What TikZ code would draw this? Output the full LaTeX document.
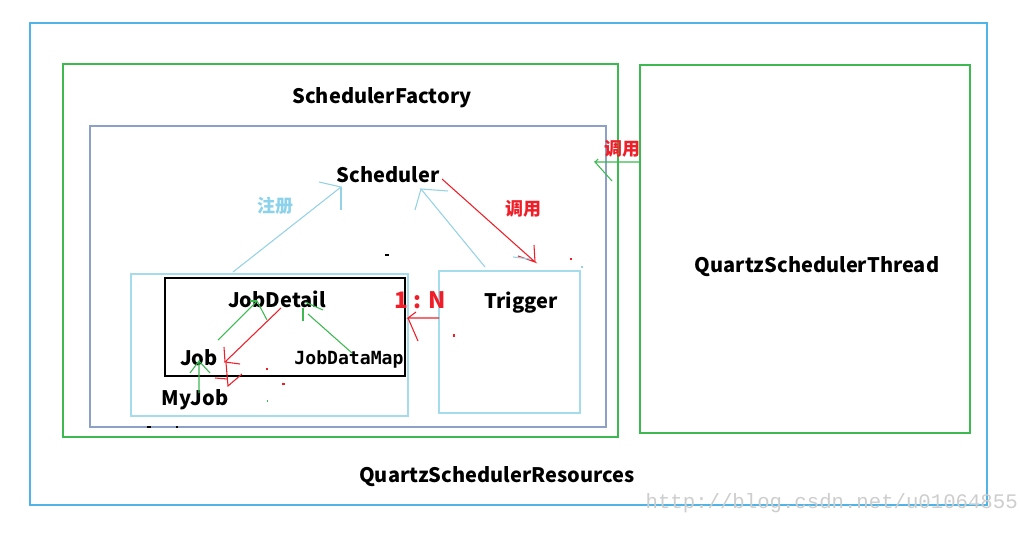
\documentclass[tikz,border=0pt]{standalone}
\usepackage{fontspec}
\newfontfamily\cjk{Noto Sans CJK SC}
\newfontfamily\monof{DejaVu Sans Mono}
\newfontfamily\wmfont{Liberation Mono}
\definecolor{outerblue}{RGB}{80,180,230}
\definecolor{boxgreen}{RGB}{60,185,80}
\definecolor{greyblue}{RGB}{140,160,200}
\definecolor{paleblue}{RGB}{165,220,235}
\definecolor{arrblue}{RGB}{150,210,230}
\definecolor{lblblue}{RGB}{140,210,235}
\definecolor{hred}{RGB}{240,30,40}
\definecolor{wmgrey}{RGB}{205,205,205}
\tikzset{
  lbl/.style={font=\cjk\bfseries\fontsize{15}{18}\selectfont, text=black, inner sep=0pt},
  monolbl/.style={font=\monof\bfseries\fontsize{13.6}{16}\selectfont, text=black, inner sep=0pt},
  cnlbl/.style={font=\cjk\bfseries\fontsize{13.5}{16}\selectfont, inner sep=0pt},
  box/.style={draw, line width=1.1pt, inner sep=0pt},
  thinbox/.style={draw, line width=0.9pt, inner sep=0pt},
  bluestroke/.style={draw=arrblue, line width=0.8pt},
  redstroke/.style={draw=hred, line width=0.8pt},
  greenstroke/.style={draw=boxgreen, line width=0.8pt},
}
\begin{document}
\begin{tikzpicture}[x=0.75pt,y=-0.75pt]
\useasboundingbox (0,0) rectangle (1020,535);
\fill[white] (0,0) rectangle (1020,535);
% boxes
\draw[box, outerblue] (30,23) rectangle (987,505);
\draw[box, boxgreen] (63,64) rectangle (618,437);
\draw[box, boxgreen] (640,65) rectangle (970,433);
\draw[thinbox, greyblue] (90,126) rectangle (606,427);
\draw[thinbox, paleblue] (131,274) rectangle (408,416);
\draw[thinbox, black] (165,278) rectangle (405,376);
\draw[thinbox, paleblue] (439,271) rectangle (580,413);
% labels
\node[lbl] (sf) at (382,98) {SchedulerFactory};
\node[lbl] (qst) at (817,267) {QuartzSchedulerThread};
\node[lbl] (qsr) at (497,477) {QuartzSchedulerResources};
\node[lbl] (sch) at (388,175) {Scheduler};
\node[lbl] (jd) at (277,299) {JobDetail};
\node[lbl] (job) at (199,358) {Job};
\node[monolbl] (jdm) at (349,359) {JobDataMap};
\node[lbl] (myjob) at (195,400) {MyJob};
\node[lbl] (trg) at (521,303) {Trigger};
\node[cnlbl, text=hred, font=\cjk\bfseries\fontsize{17}{20}\selectfont] (ratio) at (420,300) {1 : N};
\node[cnlbl, text=lblblue] (reg) at (275,206) {注册};
\node[cnlbl, text=hred] (call1) at (523,209) {调用};
\node[cnlbl, text=hred] (call2) at (622,149) {调用};
% coordinates
\coordinate (a1s) at (233,272);
\coordinate (a1t) at (341,187);
\coordinate (a2s) at (485,267);
\coordinate (a2t) at (421,189);
\coordinate (a3s) at (442,179);
\coordinate (a3t) at (535,262);
\coordinate (a4s) at (640,162);
\coordinate (a4t) at (595,162);
\coordinate (a5s) at (439,318);
\coordinate (a5t) at (408,318);
\coordinate (a6s) at (218,340);
\coordinate (a6t) at (257,301);
\coordinate (a7s) at (281,308);
\coordinate (a7t) at (225,362);
\coordinate (a8s) at (199,393);
\coordinate (a8t) at (199,361);
\coordinate (a9s) at (352,353);
\coordinate (a9t) at (308,314);
% light blue arrows to Scheduler
\draw[bluestroke] (a1s) -- (a1t) -- (319,182);
\draw[bluestroke] (a1t) -- (341,210);
\draw[bluestroke] (a2s) -- (a2t) -- (448,191);
\draw[bluestroke] (a2t) -- (415,210);
\draw[bluestroke] (470,203) -- (471,205);
% red Scheduler -> Trigger
\draw[redstroke] (a3s) -- (a3t) -- (518,256);
\draw[redstroke] (a3t) -- (534,245);
\draw[bluestroke] (513,257) -- (530,259);
\fill[hred] (570,258) rectangle (572,260);
\fill[arrblue] (581,266) rectangle (583,268);
% green Thread -> Factory
\draw[greenstroke] (a4s) -- (a4t) -- (612,181);
\draw[greenstroke] (a4t) -- (598,159);
% red Trigger -> JobDetail box
\draw[redstroke] (a5s) -- (a5t) -- (416,312);
\draw[redstroke] (a5t) -- (418,341);
\fill[hred] (453,334) rectangle (455,337);
% green Job -> JobDetail
\draw[greenstroke] (a6s) -- (a6t) -- (267,320);
\draw[greenstroke] (a6t) -- (250,301);
% red JobDetail -> Job
\draw[redstroke] (a7s) -- (a7t) -- (240,364);
\draw[redstroke] (a7t) -- (224,347);
\draw[redstroke] (226,363) -- (228,386) -- (242,374);
\draw[redstroke] (215,378) -- (228,379);
\fill[hred] (266,368) rectangle (268,370);
\fill[hred] (282,383) rectangle (285,385);
\fill[boxgreen] (267,400) rectangle (268,402);
% green MyJob -> Job
\draw[greenstroke] (a8s) -- (a8t) -- (190,373);
\draw[greenstroke] (a8t) -- (210,373);
% green JobDataMap -> JobDetail
\draw[greenstroke] (a9s) -- (a9t);
\draw[greenstroke] (303,308) -- (303,321);
\draw[greenstroke] (305,302) -- (323,310);
% stray marks
\fill[black] (385,254) rectangle (389,256);
\fill[black] (147,426) rectangle (151,428);
\fill[black] (176,426) rectangle (178,428);
% watermark
\node[font=\wmfont\fontsize{15.5}{18}\selectfont, text=wmgrey, anchor=east, inner sep=0pt] (wm) at (1018,503) {http://blog.csdn.net/u01064855};
\end{tikzpicture}
\end{document}
